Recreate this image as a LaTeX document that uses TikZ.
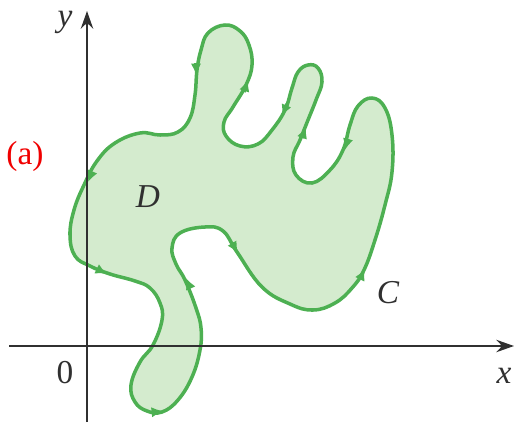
\documentclass[tikz,border=0pt]{standalone}
\usepackage{fontspec}
\setmainfont{Liberation Serif}
\usepackage{xcolor}
\usepackage{tikz}
\usetikzlibrary{arrows.meta}
\definecolor{RegionGreen}{HTML}{D4EBCE}
\definecolor{CurveGreen}{HTML}{4DB052}
\definecolor{AxisGray}{HTML}{303030}
\definecolor{LabelRed}{HTML}{F00000}

\begin{document}
\begin{tikzpicture}[x=0.02cm,y=-0.02cm,
		lab/.style={font=\fontsize{19}{21}\selectfont\itshape,text=AxisGray,inner sep=0pt},
		curvetip/.style={CurveGreen,line width=2pt,-{Latex[length=6.5pt,width=6pt]}}]
		\useasboundingbox (0,0) rectangle (517,426);
		\filldraw[fill=RegionGreen,draw=CurveGreen,line width=2pt] plot[smooth cycle,tension=0.7] coordinates {
			(225,25) (208,33) (201,50) (197,70) (195,95) (190,118) (178,132) (160,135)
			(140,133) (115,143) (97,161) (84,185) (74,210) (70,235) (75,256) (90,266)
			(110,274) (135,281) (150,288) (160,303) (162,320) (153,345) (140,362) (131,385)
			(135,402) (147,411) (162,412) (178,400) (192,377) (200,350) (201,328) (196,308)
			(185,280) (176,264) (172,248) (180,233) (205,227) (223,231) (237,252) (262,287)
			(290,304) (313,310) (335,303) (352,288) (364,270) (375,240) (385,205) (392,172)
			(392,135) (385,108) (372,98) (358,106) (350,125) (343,150) (330,170) (312,183)
			(296,175) (293,157) (300,140) (308,120) (316,100) (322,82) (318,68) (308,65)
			(298,72) (292,88) (285,110) (272,130) (258,144) (240,146) (226,136) (224,122)
			(233,107) (246,85) (252,65) (249,45) (240,31)};
		\draw[AxisGray,line width=1.3pt,-{Stealth[length=10pt,width=7pt]}] (9,346) -- (514,346);
		\draw[AxisGray,line width=1.3pt,-{Stealth[length=10pt,width=7pt]}] (87,422) -- (87,11);
		\draw[curvetip] (91,175) -- (88,182);
		\draw[curvetip] (99,270) -- (107,274);
		\draw[curvetip] (154,412) -- (163,411);
		\draw[curvetip] (190,287) -- (186,278);
		\draw[curvetip] (232,243) -- (238,253);
		\draw[curvetip] (360,279) -- (365,269);
		\draw[curvetip] (348,139) -- (345,150);
		\draw[curvetip] (302,138) -- (306,127);
		\draw[curvetip] (287,104) -- (282,116);
		\draw[curvetip] (244,92) -- (248,80);
		\draw[curvetip] (196,63) -- (196,75);
		\node[lab] (ylab) at (65,22) {y};
		\node[lab] (xlab) at (504,376) {x};
		\node[lab,font=\fontsize{19}{21}\selectfont] (origin) at (65,373) {0};
		\node[lab] (dlab) at (148,197) {D};
		\node[lab] (clab) at (388,293) {C};
		\node[inner sep=0pt,text=LabelRed,font=\fontsize{19}{21}\selectfont] (parta) at (25,156) {(a)};
	\end{tikzpicture}
\end{document}
